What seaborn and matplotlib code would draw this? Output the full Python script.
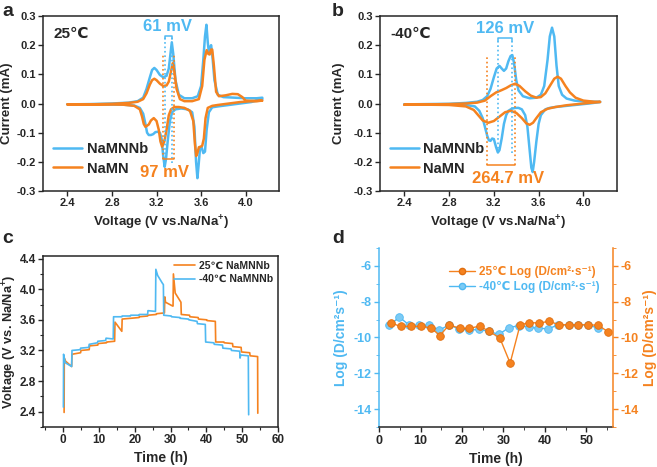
import numpy as np
import pandas as pd
import matplotlib
matplotlib.use("Agg")
import matplotlib.pyplot as plt
from matplotlib.ticker import MultipleLocator, FormatStrFormatter
from matplotlib.lines import Line2D
import seaborn as sns

# colours
BLUE = '#4FB9F2'
ORANGE = '#F5821F'

# ---------------- panel a: CV at 25 C ----------------
Va_nb_ox = [2.40, 2.60, 2.80, 2.95, 3.03, 3.08, 3.11, 3.14, 3.16, 3.18, 3.20, 3.23, 3.26, 3.29, 3.31, 3.325,
            3.337, 3.35, 3.37, 3.40, 3.45, 3.52, 3.57, 3.60, 3.62, 3.635, 3.648, 3.66, 3.67, 3.68, 3.69, 3.70,
            3.72, 3.75, 3.80, 3.90, 4.00, 4.10, 4.15]
Ia_nb_ox = [-0.003, -0.002, 0.000, 0.003, 0.008, 0.02, 0.05, 0.09, 0.115, 0.122, 0.115, 0.098, 0.09, 0.095,
            0.12, 0.17, 0.21, 0.17, 0.08, 0.03, 0.018, 0.018, 0.025, 0.06, 0.15, 0.23, 0.27, 0.21, 0.175, 0.19,
            0.2, 0.17, 0.08, 0.03, 0.022, 0.02, 0.018, 0.018, 0.02]
Va_nb_red = [4.15, 4.05, 3.95, 3.85, 3.75, 3.70, 3.67, 3.65, 3.635, 3.62, 3.605, 3.59, 3.578, 3.567, 3.555,
             3.54, 3.52, 3.48, 3.42, 3.37, 3.34, 3.32, 3.30, 3.285, 3.273, 3.26, 3.245, 3.23, 3.21, 3.19, 3.17,
             3.15, 3.13, 3.115, 3.10, 3.08, 3.05, 3.00, 2.90, 2.70, 2.50, 2.40]
Ia_nb_red = [0.015, 0.005, 0.0, -0.005, -0.01, -0.013, -0.03, -0.09, -0.165, -0.17, -0.15, -0.155, -0.21,
             -0.256, -0.2, -0.08, -0.03, -0.02, -0.017, -0.02, -0.03, -0.06, -0.13, -0.19, -0.217, -0.18, -0.12,
             -0.1, -0.097, -0.098, -0.105, -0.108, -0.108, -0.1, -0.07, -0.035, -0.015, -0.007, -0.004, -0.003,
             -0.003, -0.003]
Va_mn_ox = [2.40, 2.60, 2.80, 2.95, 3.03, 3.08, 3.11, 3.14, 3.16, 3.18, 3.20, 3.23, 3.26, 3.29, 3.31, 3.33,
            3.345, 3.36, 3.38, 3.41, 3.45, 3.52, 3.58, 3.61, 3.63, 3.65, 3.665, 3.677, 3.69, 3.70, 3.715, 3.735,
            3.76, 3.82, 3.88, 3.93, 3.97, 4.00, 4.10, 4.15]
Ia_mn_ox = [-0.003, -0.003, -0.001, 0.002, 0.006, 0.015, 0.035, 0.065, 0.08, 0.085, 0.08, 0.068, 0.06, 0.062,
            0.075, 0.11, 0.138, 0.11, 0.05, 0.015, 0.008, 0.008, 0.015, 0.06, 0.15, 0.183, 0.17, 0.168, 0.185,
            0.185, 0.13, 0.04, 0.025, 0.028, 0.033, 0.032, 0.022, 0.01, 0.008, 0.01]
Va_mn_red = [4.15, 4.05, 3.95, 3.85, 3.75, 3.70, 3.66, 3.64, 3.625, 3.61, 3.595, 3.58, 3.567, 3.556, 3.545,
             3.53, 3.50, 3.45, 3.40, 3.36, 3.33, 3.31, 3.29, 3.27, 3.25, 3.235, 3.22, 3.20, 3.175, 3.15, 3.13,
             3.10, 3.085, 3.07, 3.05, 3.00, 2.90, 2.70, 2.50, 2.40]
Ia_mn_red = [0.01, 0.008, 0.005, 0.0, -0.005, -0.008, -0.015, -0.05, -0.12, -0.145, -0.148, -0.15, -0.17,
             -0.18, -0.14, -0.06, -0.025, -0.015, -0.012, -0.012, -0.02, -0.04, -0.09, -0.13, -0.148, -0.13,
             -0.09, -0.06, -0.05, -0.058, -0.072, -0.08, -0.07, -0.045, -0.02, -0.008, -0.004, -0.003, -0.003,
             -0.003]

# ---------------- panel b: CV at -40 C ----------------
Vb_nb_ox = [2.40, 2.60, 2.80, 2.95, 3.05, 3.10, 3.14, 3.17, 3.20, 3.225, 3.25, 3.27, 3.29, 3.31, 3.33, 3.35,
            3.365, 3.38, 3.40, 3.42, 3.46, 3.52, 3.58, 3.62, 3.65, 3.68, 3.70, 3.72, 3.74, 3.76, 3.78, 3.81,
            3.85, 3.92, 4.00, 4.10, 4.15]
Ib_nb_ox = [-0.003, -0.002, -0.001, 0.002, 0.006, 0.012, 0.025, 0.05, 0.09, 0.12, 0.129, 0.12, 0.112, 0.12,
            0.145, 0.163, 0.166, 0.14, 0.08, 0.045, 0.025, 0.018, 0.02, 0.03, 0.06, 0.15, 0.23, 0.26, 0.23,
            0.13, 0.06, 0.03, 0.017, 0.01, 0.007, 0.006, 0.006]
Vb_nb_red = [4.15, 4.05, 3.95, 3.85, 3.75, 3.70, 3.66, 3.62, 3.60, 3.58, 3.56, 3.547, 3.535, 3.52, 3.50, 3.48,
             3.45, 3.42, 3.39, 3.36, 3.33, 3.31, 3.29, 3.27, 3.25, 3.236, 3.22, 3.20, 3.185, 3.17, 3.155, 3.14,
             3.12, 3.10, 3.07, 3.03, 2.95, 2.80, 2.60, 2.40]
Ib_nb_red = [0.005, 0.0, -0.004, -0.008, -0.012, -0.015, -0.02, -0.04, -0.07, -0.13, -0.2, -0.235, -0.22,
             -0.16, -0.08, -0.04, -0.02, -0.015, -0.015, -0.018, -0.025, -0.04, -0.07, -0.12, -0.16, -0.168,
             -0.15, -0.122, -0.12, -0.128, -0.126, -0.11, -0.08, -0.05, -0.025, -0.01, -0.005, -0.003, -0.003,
             -0.003]
Vb_mn_ox = [2.40, 2.60, 2.80, 2.95, 3.05, 3.12, 3.17, 3.22, 3.27, 3.31, 3.35, 3.39, 3.43, 3.48, 3.53, 3.58,
            3.62, 3.66, 3.70, 3.74, 3.77, 3.80, 3.84, 3.88, 3.93, 4.00, 4.10, 4.15]
Ib_mn_ox = [-0.004, -0.003, -0.002, 0.0, 0.003, 0.01, 0.025, 0.038, 0.046, 0.053, 0.062, 0.068, 0.06, 0.042,
            0.027, 0.02, 0.022, 0.035, 0.06, 0.085, 0.092, 0.085, 0.06, 0.038, 0.02, 0.01, 0.006, 0.006]
Vb_mn_red = [4.15, 4.05, 3.95, 3.85, 3.75, 3.68, 3.62, 3.58, 3.55, 3.52, 3.49, 3.45, 3.40, 3.35, 3.30, 3.25,
             3.20, 3.15, 3.10, 3.06, 3.02, 2.95, 2.80, 2.60, 2.40]
Ib_mn_red = [0.005, 0.002, -0.002, -0.006, -0.012, -0.018, -0.03, -0.05, -0.066, -0.073, -0.068, -0.05,
             -0.032, -0.025, -0.03, -0.045, -0.06, -0.066, -0.058, -0.04, -0.022, -0.01, -0.005, -0.004, -0.004]

# ---------------- panel c: GITT profiles ----------------
t_25 = [0.3, 0.35, 0.7, 2.4, 2.5, 4.9, 5.0, 7.3, 7.4, 9.7, 9.8, 12.1, 12.2, 14.4, 14.5, 16.4, 16.5, 18.8, 18.9,
        21.2, 21.3, 23.6, 23.7, 26.0, 26.1, 28.3, 28.4, 28.6, 30.6, 30.7, 30.8, 31.3, 32.9, 33.0, 35.3, 35.4,
        37.7, 37.8, 40.1, 40.2, 42.5, 42.6, 44.9, 45.0, 47.3, 47.4, 49.7, 49.8, 52.1, 52.2, 54.3, 54.35]
V_25 = [2.39, 3.10, 3.06, 2.99, 3.15, 3.17, 3.20, 3.21, 3.26, 3.27, 3.29, 3.30, 3.31, 3.32, 3.57, 3.45, 3.61,
        3.62, 3.62, 3.63, 3.64, 3.65, 3.66, 3.67, 3.68, 3.69, 3.90, 3.83, 3.78, 3.78, 4.20, 3.95, 3.83, 3.67,
        3.66, 3.64, 3.63, 3.61, 3.60, 3.59, 3.58, 3.31, 3.31, 3.30, 3.29, 3.25, 3.24, 3.18, 3.17, 3.13, 3.12,
        2.38]
t_m40 = [0.10, 0.15, 0.6, 2.4, 2.5, 4.8, 4.9, 7.2, 7.3, 9.6, 9.7, 11.9, 12.0, 14.0, 14.1, 16.4, 16.5, 18.8,
         18.9, 21.2, 21.3, 23.6, 23.7, 25.8, 25.9, 26.4, 27.7, 28.0, 28.1, 30.2, 30.3, 32.6, 32.7, 35.0, 35.1,
         37.4, 37.5, 39.7, 39.8, 42.1, 42.2, 44.5, 44.6, 46.9, 47.0, 49.3, 49.4, 49.6, 51.7, 51.8]
V_m40 = [2.46, 3.15, 3.04, 2.99, 3.20, 3.21, 3.23, 3.24, 3.28, 3.30, 3.32, 3.33, 3.36, 3.35, 3.64, 3.64, 3.65,
         3.65, 3.66, 3.66, 3.67, 3.67, 3.72, 3.71, 4.26, 4.18, 4.08, 4.06, 3.66, 3.65, 3.64, 3.63, 3.62, 3.61,
         3.60, 3.58, 3.55, 3.54, 3.31, 3.30, 3.28, 3.27, 3.23, 3.22, 3.20, 3.19, 3.10, 3.14, 3.13, 2.36]

# ---------------- panel d: diffusion coefficients ----------------
td_25 = [2.8, 5.2, 7.6, 10.0, 12.4, 14.7, 16.9, 19.4, 21.8, 24.3, 26.5, 29.1, 31.6, 34.0, 36.2, 38.6, 41.0,
         43.4, 45.8, 48.0, 50.4, 52.9, 55.3]
logD_25 = [-9.19, -9.38, -9.38, -9.38, -9.45, -9.89, -9.29, -9.49, -9.49, -9.36, -9.66, -10.02, -11.43, -9.30,
           -9.17, -9.19, -9.10, -9.29, -9.29, -9.29, -9.29, -9.32, -9.70]
td_m40 = [2.5, 4.9, 7.3, 9.7, 12.1, 14.5, 16.9, 19.3, 21.7, 24.1, 26.5, 28.9, 31.3, 33.7, 36.2, 38.4, 40.8,
          43.2, 45.8, 48.0, 50.4, 52.7]
logD_m40 = [-9.32, -8.86, -9.32, -9.32, -9.32, -9.60, -9.29, -9.53, -9.59, -9.55, -9.66, -9.83, -9.45, -9.34,
            -9.42, -9.49, -9.51, -9.30, -9.30, -9.30, -9.30, -9.47]

# ---------------- style ----------------
sns.set_style("ticks")
plt.rcParams['font.family'] = ['Liberation Sans', 'DejaVu Sans']
plt.rcParams['font.weight'] = 'bold'
plt.rcParams['axes.labelweight'] = 'bold'
plt.rcParams['axes.unicode_minus'] = False
plt.rcParams['mathtext.fontset'] = 'custom'
plt.rcParams['mathtext.rm'] = 'Liberation Sans:bold'
plt.rcParams['mathtext.bf'] = 'Liberation Sans:bold'
plt.rcParams['mathtext.default'] = 'bf'
plt.rcParams['axes.linewidth'] = 1.1
plt.rcParams['xtick.major.width'] = 1.0
plt.rcParams['ytick.major.width'] = 1.0
plt.rcParams['xtick.direction'] = 'out'
plt.rcParams['ytick.direction'] = 'out'

TICK_FS = 8
LABEL_FS = 9.5

fig = plt.figure(figsize=(6.57, 4.67), dpi=100)
ax_a = fig.add_axes([0.0654, 0.591, 0.3593, 0.3747])
ax_b = fig.add_axes([0.578, 0.591, 0.361, 0.3747])
ax_c = fig.add_axes([0.0654, 0.0857, 0.3578, 0.3663])
ax_d = fig.add_axes([0.577, 0.0857, 0.356, 0.3833])


def cv_frame(v_ox, i_ox, v_red, i_red):
    return pd.DataFrame({'V': v_ox + v_red, 'I': i_ox + i_red})


def cv_panel(ax, nb, mn, temp, blue_pair, orange_pair, blue_txt, orange_txt, bracket_y, txt_y, ylab_x):
    sns.lineplot(data=nb, x='V', y='I', sort=False, estimator=None, color=BLUE, lw=1.8, ax=ax, label='NaMNNb')
    sns.lineplot(data=mn, x='V', y='I', sort=False, estimator=None, color=ORANGE, lw=1.8, ax=ax, label='NaMN')
    ax.set_xlim(2.18, 4.3)
    ax.set_ylim(-0.3, 0.3)
    ax.xaxis.set_major_locator(MultipleLocator(0.4))
    ax.yaxis.set_major_locator(MultipleLocator(0.1))
    ax.xaxis.set_major_formatter(FormatStrFormatter('%.1f'))
    ax.yaxis.set_major_formatter(FormatStrFormatter('%.1f'))
    ax.tick_params(labelsize=TICK_FS, length=3.5, pad=1.5)
    ax.set_xlabel('Voltage (V vs.Na/Na$^{+}$)', fontsize=LABEL_FS)
    ax.set_ylabel('Current (mA)', fontsize=LABEL_FS)
    ax.yaxis.set_label_coords(ylab_x, 0.5)
    for s in ax.spines.values():
        s.set_visible(True)
    ax.text(0.045, 0.9, temp, transform=ax.transAxes, fontsize=11, va='center')
    # peak separation markers
    bx1, bx2 = blue_pair
    ax.vlines([bx1, bx2], blue_txt[1], bracket_y[0], colors=BLUE, linestyles=':', lw=1.2)
    ax.plot([bx1, bx1, bx2, bx2], [bracket_y[0] - 0.012, bracket_y[0], bracket_y[0], bracket_y[0] - 0.012],
            color=BLUE, lw=1.1)
    ox1, ox2 = orange_pair
    ax.vlines([ox1, ox2], bracket_y[1], orange_txt[1], colors=ORANGE, linestyles=':', lw=1.2)
    ax.plot([ox1, ox2], [bracket_y[1], bracket_y[1]], color=ORANGE, lw=1.1)
    ax.text(txt_y[0][0], txt_y[0][1], blue_txt[0], color=BLUE, fontsize=12, ha='center', va='center')
    ax.text(txt_y[1][0], txt_y[1][1], orange_txt[0], color=ORANGE, fontsize=12, ha='center', va='center')
    ax.legend(loc='lower left', bbox_to_anchor=(0.0, 0.03), frameon=False, fontsize=10.5, handlelength=2.0,
              handletextpad=0.3, labelspacing=0.35, borderaxespad=0.3)


nb_a = cv_frame(Va_nb_ox, Ia_nb_ox, Va_nb_red, Ia_nb_red)
mn_a = cv_frame(Va_mn_ox, Ia_mn_ox, Va_mn_red, Ia_mn_red)
cv_panel(ax_a, nb_a, mn_a, '25\u2103', (3.278, 3.335), (3.255, 3.353), ('61 mV', -0.205), ('97 mV', 0.17),
         (0.232, -0.19), ((3.30, 0.265), (3.27, -0.238)), -0.128)

nb_b = cv_frame(Vb_nb_ox, Ib_nb_ox, Vb_nb_red, Ib_nb_red)
mn_b = cv_frame(Vb_mn_ox, Ib_mn_ox, Vb_mn_red, Ib_mn_red)
cv_panel(ax_b, nb_b, mn_b, '-40\u2103', (3.24, 3.362), (3.14, 3.39), ('126 mV', -0.168), ('264.7 mV', 0.158),
         (0.226, -0.212), ((3.30, 0.257), (3.33, -0.258)), -0.148)

# ---------------- panel c ----------------
df_c25 = pd.DataFrame({'t': t_25, 'V': V_25})
df_cm40 = pd.DataFrame({'t': t_m40, 'V': V_m40})
sns.lineplot(data=df_c25, x='t', y='V', sort=False, estimator=None, color=ORANGE, lw=1.2, ax=ax_c,
             label='25\u2103 NaMNNb')
sns.lineplot(data=df_cm40, x='t', y='V', sort=False, estimator=None, color=BLUE, lw=1.2, ax=ax_c,
             label='-40\u2103 NaMNNb')
ax_c.set_xlim(-5.6, 60)
ax_c.set_ylim(2.2, 4.435)
ax_c.xaxis.set_major_locator(MultipleLocator(10))
ax_c.xaxis.set_minor_locator(MultipleLocator(5))
ax_c.yaxis.set_major_locator(MultipleLocator(0.4))
ax_c.yaxis.set_minor_locator(MultipleLocator(0.2))
ax_c.yaxis.set_major_formatter(FormatStrFormatter('%.1f'))
ax_c.tick_params(labelsize=TICK_FS + 0.5, length=3.5, pad=1.5)
ax_c.tick_params(which='minor', length=2, width=0.8)
ax_c.set_xlabel('Time (h)', fontsize=LABEL_FS + 0.5)
ax_c.set_ylabel('Voltage (V vs. Na/Na$^{+}$)', fontsize=LABEL_FS - 0.3)
ax_c.yaxis.set_label_coords(-0.103, 0.5)
ax_c.legend(loc='upper right', frameon=False, fontsize=7.5, handlelength=2.0, handletextpad=0.4,
            labelspacing=0.3, borderaxespad=0.1)

# ---------------- panel d ----------------
ax_d2 = ax_d.twinx()
sns.lineplot(x=td_m40, y=logD_m40, ax=ax_d, color=BLUE, lw=1.0, marker='o', markersize=5.5,
             markerfacecolor='#7CCBF5', markeredgecolor=BLUE, markeredgewidth=0.6)
sns.lineplot(x=td_25, y=logD_25, ax=ax_d2, color=ORANGE, lw=1.0, marker='o', markersize=5.5,
             markerfacecolor=ORANGE, markeredgecolor='#E06E10', markeredgewidth=0.6)
for a in (ax_d, ax_d2):
    a.set_ylim(-15, -5)
    a.yaxis.set_major_locator(MultipleLocator(2))
    a.yaxis.set_minor_locator(MultipleLocator(1))
    a.spines['top'].set_visible(False)
ax_d.set_xlim(0, 56.4)
ax_d.xaxis.set_major_locator(MultipleLocator(10))
ax_d.xaxis.set_minor_locator(MultipleLocator(5))
ax_d.spines['left'].set_color(BLUE)
ax_d.spines['right'].set_visible(False)
ax_d2.spines['right'].set_color(ORANGE)
ax_d2.spines['left'].set_visible(False)
ax_d2.spines['bottom'].set_visible(False)
ax_d.tick_params(axis='y', colors=BLUE, labelsize=TICK_FS + 1, length=3.5, pad=2)
ax_d.tick_params(axis='y', which='minor', colors=BLUE, length=2)
ax_d.tick_params(axis='x', labelsize=TICK_FS + 1, length=3.5, pad=2)
ax_d.tick_params(axis='x', which='minor', length=2)
ax_d2.tick_params(axis='y', colors=ORANGE, labelsize=TICK_FS + 1, length=3.5, pad=2)
ax_d2.tick_params(axis='y', which='minor', colors=ORANGE, length=2)
ax_d.set_xlabel('Time (h)', fontsize=LABEL_FS + 0.5)
ax_d.set_ylabel('Log (D/cm\u00b2s\u207b\u00b9)', fontsize=LABEL_FS + 0.5, color=BLUE)
ax_d.yaxis.set_label_coords(-0.132, 0.5)
ax_d2.set_ylabel('Log (D/cm\u00b2s\u207b\u00b9)', fontsize=LABEL_FS + 0.5, color=ORANGE)
ax_d2.yaxis.set_label_coords(1.128, 0.5)
h25 = Line2D([], [], color=ORANGE, lw=1.0, marker='o', markersize=4.5, markerfacecolor=ORANGE,
             markeredgecolor='#E06E10')
hm40 = Line2D([], [], color=BLUE, lw=1.0, marker='o', markersize=4.5, markerfacecolor='#7CCBF5',
              markeredgecolor=BLUE)
leg = ax_d2.legend([h25, hm40], ['25\u2103 Log (D/cm\u00b2\u00b7s\u207b\u00b9)', '-40\u2103 Log (D/cm\u00b2\u00b7s\u207b\u00b9)'],
                   loc='upper right', bbox_to_anchor=(0.99, 0.96), frameon=False, fontsize=8.5,
                   handlelength=2.2, handletextpad=0.4, labelspacing=0.3)
for txt, col in zip(leg.get_texts(), [ORANGE, BLUE]):
    txt.set_color(col)

# panel letters
for lab, x, y in [('a', 0.003, 0.975), ('b', 0.505, 0.975), ('c', 0.003, 0.49), ('d', 0.505, 0.49)]:
    fig.text(x, y, lab, fontsize=14, fontweight='bold', va='center')

fig.savefig('out.png', dpi=100)
